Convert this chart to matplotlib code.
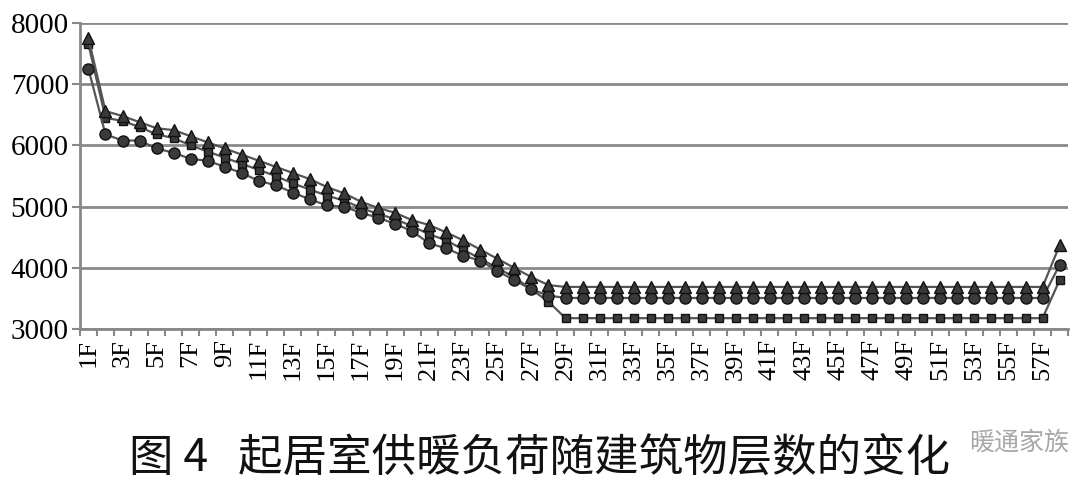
import numpy as np
import matplotlib.pyplot as plt

plt.rcParams['font.family'] = ['Liberation Serif', 'DejaVu Serif']

# 楼层
floors = ['%dF' % i for i in range(1, 59)]

# 三条曲线
tri = [7750, 6560, 6480, 6380, 6280, 6250, 6150, 6050, 5950, 5850,
       5750, 5650, 5550, 5450, 5320, 5220, 5080, 4980, 4900, 4780,
       4700, 4580, 4450, 4300, 4150, 4000, 3850, 3720] + [3690] * 29 + [4370]
sq = [7650, 6450, 6400, 6300, 6180, 6120, 6000, 5900, 5800, 5700,
      5600, 5500, 5380, 5280, 5180, 5100, 4980, 4880, 4800, 4680,
      4550, 4450, 4300, 4150, 4000, 3850, 3650, 3450] + [3180] * 29 + [3800]
cir = [7250, 6180, 6080, 6080, 5950, 5880, 5780, 5750, 5650, 5550,
       5420, 5350, 5230, 5120, 5020, 5000, 4900, 4820, 4720, 4600,
       4400, 4320, 4200, 4120, 3950, 3800, 3650, 3550] + [3510] * 29 + [4050]

x = np.arange(len(floors))

fig = plt.figure(figsize=(10.8, 4.87), dpi=100)
ax = fig.add_axes([0.074, 0.324, 0.915, 0.629])

for y, m, ms in [(sq, 's', 6), (cir, 'o', 8), (tri, '^', 9)]:
    ax.plot(x, y, color='#555555', lw=1.6, marker=m, markersize=ms,
            markerfacecolor='#3a3a3a', markeredgecolor='#111111', markeredgewidth=1.0)

ax.set_xlim(-0.5, 57.5)
ax.set_ylim(3000, 8000)
ax.set_yticks(range(3000, 8001, 1000))
ax.yaxis.grid(True, color='#8a8a8a', lw=2)
ax.set_axisbelow(True)

ax.set_xticks(x[::2])
ax.set_xticklabels(floors[::2], rotation=90, fontsize=19)
ax.set_xticks(np.arange(-0.5, 58, 1), minor=True)
ax.tick_params(axis='x', which='major', length=0, pad=7)
ax.tick_params(axis='x', which='minor', length=5, width=1.5, color='#888888')
ax.tick_params(axis='y', length=6, width=1.5, color='#888888', labelsize=21, pad=2)

for s in ['top', 'right']:
    ax.spines[s].set_visible(False)
for s in ['left', 'bottom']:
    ax.spines[s].set_color('#888888')
    ax.spines[s].set_linewidth(2)

fig.text(0.5, 0.01, '图 4   起居室供暖负荷随建筑物层数的变化', ha='center', va='bottom',
         fontsize=32, family=['Noto Sans CJK SC', 'DejaVu Sans'], color='#111111',
         fontweight='light')
fig.text(0.99, 0.065, '暖通家族', ha='right', va='bottom', fontsize=18,
         family=['Noto Sans CJK SC', 'DejaVu Sans'], color='#a8a8a8')

plt.savefig('out.png', dpi=100)
